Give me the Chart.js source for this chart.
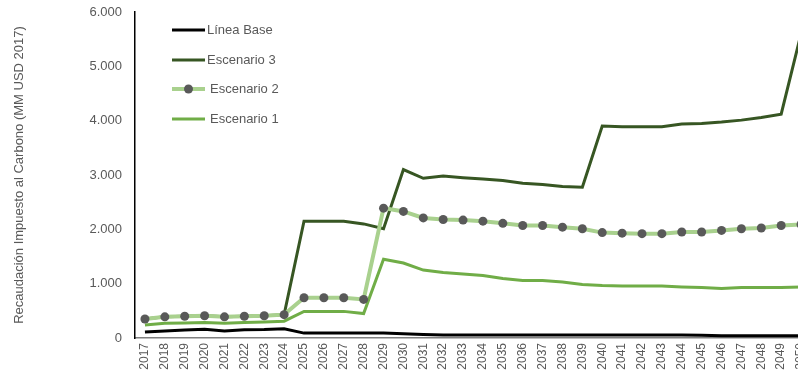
<!DOCTYPE html>
<html>
<head>
<meta charset="utf-8">
<script src="https://cdn.jsdelivr.net/npm/chart.js@4"></script>
<style>
  body { margin: 0; overflow: hidden; background: #fff; }
  #wrap { width: 830px; height: 381px; position: relative; }
</style>
</head>
<body>
<div id="wrap"><canvas id="chart"></canvas></div>
<script>
const years = [];
for (let y = 2017; y <= 2050; y++) years.push(String(y));

const lineaBase = [110, 130, 145, 160, 130, 150, 155, 170, 90, 90, 90, 90, 90, 80, 65, 55, 55, 55, 55, 55, 55, 55, 55, 55, 55, 55, 55, 55, 50, 40, 40, 40, 40, 40];
const escenario3 = [350, 390, 400, 410, 390, 400, 410, 430, 2150, 2150, 2150, 2100, 2010, 3100, 2940, 2980, 2950, 2925, 2900, 2850, 2825, 2790, 2775, 3900, 3890, 3890, 3890, 3940, 3950, 3975, 4010, 4060, 4120, 5600];
const escenario2 = [350, 390, 400, 410, 390, 400, 410, 430, 740, 740, 740, 710, 2390, 2330, 2210, 2180, 2170, 2150, 2110, 2070, 2070, 2040, 2010, 1940, 1930, 1920, 1920, 1950, 1950, 1980, 2010, 2025, 2070, 2090];
const escenario1 = [240, 270, 275, 285, 270, 285, 295, 310, 490, 490, 490, 450, 1450, 1380, 1250, 1205, 1180, 1150, 1095, 1060, 1060, 1030, 985, 965, 955, 955, 955, 940, 930, 910, 930, 930, 930, 940];

const FONT = "'Liberation Sans', Arial, sans-serif";
const GRAY = '#595959';

// legend drawn inside the plot, like the original
const insideLegend = {
    id: 'insideLegend',
    afterDraw(chart) {
        const ctx = chart.ctx;
        const items = [
            { label: 'Línea Base', ds: 0, y: 30, tx: 207 },
            { label: 'Escenario 3', ds: 1, y: 60, tx: 207 },
            { label: 'Escenario 2', ds: 2, y: 89, tx: 210 },
            { label: 'Escenario 1', ds: 3, y: 119, tx: 210 }
        ];
        ctx.save();
        items.forEach(it => {
            const d = chart.data.datasets[it.ds];
            ctx.strokeStyle = d.borderColor;
            ctx.lineWidth = d.borderWidth;
            ctx.beginPath();
            ctx.moveTo(172, it.y);
            ctx.lineTo(205, it.y);
            ctx.stroke();
            if (d.pointRadius > 0) {
                ctx.fillStyle = d.pointBackgroundColor;
                ctx.beginPath();
                ctx.arc(188.5, it.y, d.pointRadius, 0, Math.PI * 2);
                ctx.fill();
            }
            ctx.fillStyle = GRAY;
            ctx.font = '13px ' + FONT;
            ctx.textBaseline = 'middle';
            ctx.fillText(it.label, it.tx, it.y);
        });
        ctx.restore();
    }
};

new Chart(document.getElementById('chart'), {
    type: 'line',
    data: {
        labels: years,
        datasets: [
            { label: 'Línea Base', data: lineaBase, borderColor: '#000000', borderWidth: 3, pointRadius: 0, order: 1 },
            { label: 'Escenario 3', data: escenario3, borderColor: '#375623', borderWidth: 3, pointRadius: 0, order: 2 },
            { label: 'Escenario 2', data: escenario2, borderColor: '#A9D18E', borderWidth: 4, pointRadius: 4.5,
              pointBackgroundColor: '#595959', pointBorderWidth: 0, pointBorderColor: '#595959', order: 0 },
            { label: 'Escenario 1', data: escenario1, borderColor: '#70AD47', borderWidth: 3, pointRadius: 0, order: 3 }
        ]
    },
    options: {
        responsive: true,
        maintainAspectRatio: false,
        animation: false,
        layout: { padding: { top: 12, right: 19, left: 0, bottom: 0 } },
        plugins: { legend: { display: false }, tooltip: { enabled: false } },
        scales: {
            x: {
                offset: true,
                grid: { display: false, drawTicks: false },
                border: { display: true, color: '#7f7f7f', width: 1.5 },
                ticks: {
                    color: GRAY, font: { family: FONT, size: 12 },
                    maxRotation: 90, minRotation: 90, autoSkip: false, padding: 5
                },
                afterFit(scale) { scale.height = 43; }
            },
            y: {
                min: 0, max: 6000,
                grid: { display: false, drawTicks: false },
                border: { display: true, color: '#000000', width: 1.5 },
                ticks: {
                    stepSize: 1000, color: GRAY, padding: 13,
                    font: { family: FONT, size: 13 },
                    callback: v => v === 0 ? '0' : v.toLocaleString('de-DE')
                },
                title: {
                    display: true, text: 'Recaudación Impuesto al Carbono (MM USD 2017)',
                    color: GRAY, font: { family: FONT, size: 13 }, padding: { top: 12, bottom: 0 }
                },
                afterFit(scale) {
                    scale.width = 135;
                    scale.paddingTop = 0;
                    scale.paddingBottom = 0;
                }
            }
        }
    },
    plugins: [insideLegend]
});
</script>
</body>
</html>
